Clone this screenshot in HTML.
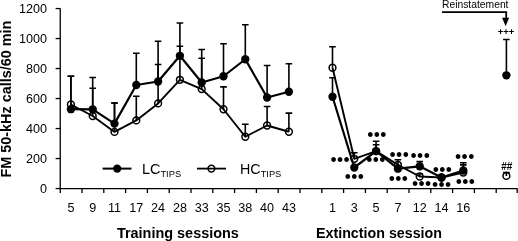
<!DOCTYPE html>
<html><head><meta charset="utf-8"><title>FM 50-kHz calls</title>
<style>
html,body{margin:0;padding:0;background:#fff;}
svg{display:block;will-change:transform;}
text{font-family:"Liberation Sans",Arial,sans-serif;fill:#000;}
.tk{font-size:12.6px;}
.b{font-weight:bold;font-size:15.3px;}
.d{font-size:17.5px;letter-spacing:0.4px;}
</style></head><body>
<svg width="518" height="241" viewBox="0 0 518 241">
<rect width="518" height="241" fill="#fff"/>
<g stroke="#000" stroke-width="1.3" fill="none">
<path d="M60.25 8.2V193"/>
<path d="M59.6 188.55H517.6"/>
<path d="M55.6 188.55H60"/>
<path d="M55.6 158.55H60"/>
<path d="M55.6 128.55H60"/>
<path d="M55.6 98.55H60"/>
<path d="M55.6 68.55H60"/>
<path d="M55.6 38.55H60"/>
<path d="M55.6 8.55H60"/>
<path d="M82.00 188.55V193"/>
<path d="M103.80 188.55V193"/>
<path d="M125.60 188.55V193"/>
<path d="M147.40 188.55V193"/>
<path d="M169.20 188.55V193"/>
<path d="M191.00 188.55V193"/>
<path d="M212.80 188.55V193"/>
<path d="M234.60 188.55V193"/>
<path d="M256.40 188.55V193"/>
<path d="M278.20 188.55V193"/>
<path d="M300.00 188.55V193"/>
<path d="M321.80 188.55V193"/>
<path d="M343.60 188.55V193"/>
<path d="M365.40 188.55V193"/>
<path d="M387.20 188.55V193"/>
<path d="M409.00 188.55V193"/>
<path d="M430.80 188.55V193"/>
<path d="M452.60 188.55V193"/>
<path d="M474.40 188.55V193"/>
<path d="M496.20 188.55V193"/>
<path d="M517.20 188.55V193"/>
</g>
<text class="tk" x="47" y="193.25" text-anchor="end" font-size="13px">0</text>
<text class="tk" x="47" y="163.25" text-anchor="end" font-size="13px">200</text>
<text class="tk" x="47" y="133.25" text-anchor="end" font-size="13px">400</text>
<text class="tk" x="47" y="103.25" text-anchor="end" font-size="13px">600</text>
<text class="tk" x="47" y="73.25" text-anchor="end" font-size="13px">800</text>
<text class="tk" x="47" y="43.25" text-anchor="end" font-size="13px">1000</text>
<text class="tk" x="47" y="13.25" text-anchor="end" font-size="13px">1200</text>
<text class="tk" x="70.90" y="211.7" text-anchor="middle">5</text>
<text class="tk" x="92.70" y="211.7" text-anchor="middle">9</text>
<text class="tk" x="114.50" y="211.7" text-anchor="middle">11</text>
<text class="tk" x="136.30" y="211.7" text-anchor="middle">17</text>
<text class="tk" x="158.10" y="211.7" text-anchor="middle">24</text>
<text class="tk" x="179.90" y="211.7" text-anchor="middle">28</text>
<text class="tk" x="201.70" y="211.7" text-anchor="middle">33</text>
<text class="tk" x="223.50" y="211.7" text-anchor="middle">35</text>
<text class="tk" x="245.30" y="211.7" text-anchor="middle">38</text>
<text class="tk" x="267.10" y="211.7" text-anchor="middle">40</text>
<text class="tk" x="288.90" y="211.7" text-anchor="middle">43</text>
<text class="tk" x="332.50" y="211.7" text-anchor="middle">1</text>
<text class="tk" x="354.30" y="211.7" text-anchor="middle">3</text>
<text class="tk" x="376.10" y="211.7" text-anchor="middle">5</text>
<text class="tk" x="397.90" y="211.7" text-anchor="middle">7</text>
<text class="tk" x="419.70" y="211.7" text-anchor="middle">12</text>
<text class="tk" x="441.50" y="211.7" text-anchor="middle">14</text>
<text class="tk" x="463.30" y="211.7" text-anchor="middle">16</text>
<text class="b" x="116.9" y="237.8" textLength="122" lengthAdjust="spacingAndGlyphs">Training sessions</text>
<text class="b" x="316" y="237.8" textLength="126" lengthAdjust="spacingAndGlyphs">Extinction session</text>
<text class="b" transform="translate(11 177.6) rotate(-90)" textLength="157" lengthAdjust="spacingAndGlyphs">FM 50-kHz calls/60 min</text>
<g stroke="#000" stroke-width="1.6" fill="none">
<path d="M70.90 109.20V76.25M67.60 76.25H74.20"/>
<path d="M70.90 104.50V76.25M67.60 76.25H74.20"/>
<path d="M92.70 109.30V77.50M89.40 77.50H96.00"/>
<path d="M92.70 116.00V88.25M89.40 88.25H96.00"/>
<path d="M114.50 123.60V103.00M111.20 103.00H117.80"/>
<path d="M114.50 131.90V103.00M111.20 103.00H117.80"/>
<path d="M136.30 85.00V53.25M133.00 53.25H139.60"/>
<path d="M136.30 120.40V96.25M133.00 96.25H139.60"/>
<path d="M158.10 81.50V41.25M154.80 41.25H161.40"/>
<path d="M158.10 103.40V64.50M154.80 64.50H161.40"/>
<path d="M179.90 55.80V23.00M176.60 23.00H183.20"/>
<path d="M179.90 79.80V46.30M176.60 46.30H183.20"/>
<path d="M201.70 82.50V49.50M198.40 49.50H205.00"/>
<path d="M201.70 89.10V58.25M198.40 58.25H205.00"/>
<path d="M223.50 76.25V43.75M220.20 43.75H226.80"/>
<path d="M223.50 109.25V86.90M220.20 86.90H226.80"/>
<path d="M245.30 59.25V24.75M242.00 24.75H248.60"/>
<path d="M245.30 136.75V124.25M242.00 124.25H248.60"/>
<path d="M267.10 97.50V65.50M263.80 65.50H270.40"/>
<path d="M267.10 125.50V106.50M263.80 106.50H270.40"/>
<path d="M288.90 91.75V63.75M285.60 63.75H292.20"/>
<path d="M288.90 131.75V113.10M285.60 113.10H292.20"/>
<path d="M332.50 96.75V77.75M329.20 77.75H335.80"/>
<path d="M332.50 67.75V46.75M329.20 46.75H335.80"/>
<path d="M354.30 158.80V152.75M351.00 152.75H357.60"/>
<path d="M376.10 151.10V141.25M372.80 141.25H379.40"/>
<path d="M376.10 151.10V144.75M372.80 144.75H379.40"/>
<path d="M397.90 168.70V159.80M394.60 159.80H401.20"/>
<path d="M419.70 166.30V161.60M416.40 161.60H423.00"/>
<path d="M419.70 176.50V173.80M416.40 173.80H423.00"/>
<path d="M463.30 170.50V162.80M460.00 162.80H466.60"/>
<path d="M463.30 172.60V164.90M460.00 164.90H466.60"/>
<path d="M506.40 75.30V39.50M503.10 39.50H509.70"/>
<path d="M506.40 175.90V172.50M503.10 172.50H509.70"/>
</g>
<polyline fill="none" stroke="#000" stroke-width="1.90" stroke-linejoin="round" points="70.90,104.50 92.70,116.00 114.50,131.90 136.30,120.40 158.10,103.40 179.90,79.80 201.70,89.10 223.50,109.25 245.30,136.75 267.10,125.50 288.90,131.75"/>
<polyline fill="none" stroke="#000" stroke-width="1.90" stroke-linejoin="round" points="332.50,67.75 354.30,158.80 376.10,151.10 397.90,164.80 419.70,176.50 441.50,177.50 463.30,172.60"/>
<polyline fill="none" stroke="#000" stroke-width="2.20" stroke-linejoin="round" points="70.90,109.20 92.70,109.30 114.50,123.60 136.30,85.00 158.10,81.50 179.90,55.80 201.70,82.50 223.50,76.25 245.30,59.25 267.10,97.50 288.90,91.75"/>
<polyline fill="none" stroke="#000" stroke-width="2.20" stroke-linejoin="round" points="332.50,96.75 354.30,167.50 376.10,151.10 397.90,168.70 419.70,166.30 441.50,177.50 463.30,170.50"/>
<circle cx="70.90" cy="104.50" r="3.4" fill="none" stroke="#000" stroke-width="1.5"/>
<circle cx="92.70" cy="116.00" r="3.4" fill="none" stroke="#000" stroke-width="1.5"/>
<circle cx="114.50" cy="131.90" r="3.4" fill="none" stroke="#000" stroke-width="1.5"/>
<circle cx="136.30" cy="120.40" r="3.4" fill="none" stroke="#000" stroke-width="1.5"/>
<circle cx="158.10" cy="103.40" r="3.4" fill="none" stroke="#000" stroke-width="1.5"/>
<circle cx="179.90" cy="79.80" r="3.4" fill="none" stroke="#000" stroke-width="1.5"/>
<circle cx="201.70" cy="89.10" r="3.4" fill="none" stroke="#000" stroke-width="1.5"/>
<circle cx="223.50" cy="109.25" r="3.4" fill="none" stroke="#000" stroke-width="1.5"/>
<circle cx="245.30" cy="136.75" r="3.4" fill="none" stroke="#000" stroke-width="1.5"/>
<circle cx="267.10" cy="125.50" r="3.4" fill="none" stroke="#000" stroke-width="1.5"/>
<circle cx="288.90" cy="131.75" r="3.4" fill="none" stroke="#000" stroke-width="1.5"/>
<circle cx="332.50" cy="67.75" r="3.4" fill="none" stroke="#000" stroke-width="1.5"/>
<circle cx="354.30" cy="158.80" r="3.4" fill="none" stroke="#000" stroke-width="1.5"/>
<circle cx="376.10" cy="151.10" r="3.4" fill="none" stroke="#000" stroke-width="1.5"/>
<circle cx="397.90" cy="164.80" r="3.4" fill="none" stroke="#000" stroke-width="1.5"/>
<circle cx="419.70" cy="176.50" r="3.4" fill="none" stroke="#000" stroke-width="1.5"/>
<circle cx="441.50" cy="177.50" r="3.4" fill="none" stroke="#000" stroke-width="1.5"/>
<circle cx="463.30" cy="172.60" r="3.4" fill="none" stroke="#000" stroke-width="1.5"/>
<circle cx="506.40" cy="175.90" r="3.4" fill="none" stroke="#000" stroke-width="1.5"/>
<circle cx="70.90" cy="109.20" r="4.15" fill="#000"/>
<circle cx="92.70" cy="109.30" r="4.15" fill="#000"/>
<circle cx="114.50" cy="123.60" r="4.15" fill="#000"/>
<circle cx="136.30" cy="85.00" r="4.15" fill="#000"/>
<circle cx="158.10" cy="81.50" r="4.15" fill="#000"/>
<circle cx="179.90" cy="55.80" r="4.15" fill="#000"/>
<circle cx="201.70" cy="82.50" r="4.15" fill="#000"/>
<circle cx="223.50" cy="76.25" r="4.15" fill="#000"/>
<circle cx="245.30" cy="59.25" r="4.15" fill="#000"/>
<circle cx="267.10" cy="97.50" r="4.15" fill="#000"/>
<circle cx="288.90" cy="91.75" r="4.15" fill="#000"/>
<circle cx="332.50" cy="96.75" r="4.15" fill="#000"/>
<circle cx="354.30" cy="167.50" r="4.15" fill="#000"/>
<circle cx="376.10" cy="151.10" r="4.15" fill="#000"/>
<circle cx="397.90" cy="168.70" r="4.15" fill="#000"/>
<circle cx="419.70" cy="166.30" r="4.15" fill="#000"/>
<circle cx="441.50" cy="177.50" r="4.15" fill="#000"/>
<circle cx="463.30" cy="170.50" r="4.15" fill="#000"/>
<circle cx="506.40" cy="75.30" r="4.15" fill="#000"/>
<path d="M102.6 168.6H131.5" stroke="#000" stroke-width="2"/>
<circle cx="117.20" cy="168.60" r="4.15" fill="#000"/>
<path d="M197 168.6H226" stroke="#000" stroke-width="1.8"/>
<circle cx="211.40" cy="168.60" r="3.4" fill="none" stroke="#000" stroke-width="1.5"/>
<text x="141.9" y="174.4" font-size="14.5px">LC<tspan font-size="9.3px" dy="3">TIPS</tspan></text>
<text x="240" y="174.4" font-size="14.3px">HC<tspan font-size="9.3px" dy="3">TIPS</tspan></text>
<text class="d" x="340.20" y="165.50" text-anchor="middle">•••</text>
<text class="d" x="354.60" y="182.75" text-anchor="middle">•••</text>
<text class="d" x="377.00" y="141.40" text-anchor="middle">•••</text>
<text class="d" x="376.00" y="166.10" text-anchor="middle">•••</text>
<text class="d" x="399.40" y="161.20" text-anchor="middle">•••</text>
<text class="d" x="398.60" y="184.90" text-anchor="middle">•••</text>
<text class="d" x="420.40" y="162.30" text-anchor="middle">•••</text>
<text class="d" x="421.80" y="189.95" text-anchor="middle">•••</text>
<text class="d" x="442.60" y="176.00" text-anchor="middle">•••</text>
<text class="d" x="441.80" y="190.75" text-anchor="middle">•••</text>
<text class="d" x="464.90" y="163.25" text-anchor="middle">•••</text>
<text class="d" x="465.50" y="188.35" text-anchor="middle">•••</text>
<text x="442" y="8.4" font-size="10.3px" fill="#3a3a3a" textLength="66.5" lengthAdjust="spacingAndGlyphs">Reinstatement</text>
<path d="M442 12.1H506.2V19" fill="none" stroke="#000" stroke-width="1.8"/>
<path d="M502.1 17.7H509.1L505.6 26.3Z" fill="#000"/>
<text x="506" y="35.4" font-size="9.5px" font-weight="bold" text-anchor="middle">+++</text>
<text x="506.7" y="170.2" font-size="10px" font-weight="bold" text-anchor="middle">##</text>
</svg>
</body></html>
